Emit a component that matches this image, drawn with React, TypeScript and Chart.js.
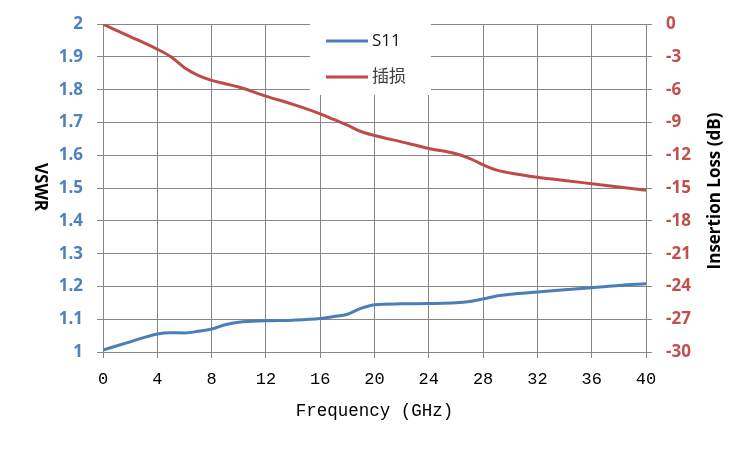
import React, { useEffect, useRef } from "react";
import { Chart, registerables } from "chart.js";

Chart.register(...registerables);

const freqGHz = [0, 2, 4, 5, 6, 7, 8, 9, 10, 12, 14, 16, 17, 18, 19, 20, 22, 24, 26, 27, 28, 29, 30, 32, 34, 36, 38, 40];
const vswrS11 = [1.006, 1.031, 1.055, 1.059, 1.058, 1.063, 1.07, 1.083, 1.091, 1.095, 1.097, 1.102, 1.108, 1.115, 1.133, 1.144, 1.147, 1.148, 1.15, 1.154, 1.162, 1.171, 1.176, 1.183, 1.19, 1.196, 1.203, 1.208];
const insertionLoss = [0, -1.13, -2.29, -2.97, -3.98, -4.68, -5.14, -5.45, -5.75, -6.58, -7.34, -8.2, -8.72, -9.24, -9.82, -10.18, -10.77, -11.37, -11.85, -12.27, -12.87, -13.35, -13.62, -14.01, -14.3, -14.6, -14.9, -15.2];

const seriesNames = ["S11", "插损"];
const xTitle = "Frequency (GHz)";
const yLeftTitle = "VSWR";
const yRightTitle = "Insertion Loss (dB)";

const BLUE = "#4A7EBB";
const RED = "#BE4B48";
const GRID = "#878787";
const TICK_FONT = '"Open Sans", "Noto Sans", sans-serif';

export default function App() {
  const ref = useRef<HTMLCanvasElement | null>(null);

  useEffect(() => {
    if (!ref.current) return;

    const overlay = {
      id: "overlay",
      beforeDatasetsDraw(chart: any) {
        const ctx = chart.ctx as CanvasRenderingContext2D;
        ctx.save();
        // legend box
        ctx.fillStyle = "#ffffff";
        ctx.fillRect(310, 18, 121, 77);
        const items = [
          { name: seriesNames[0], color: BLUE, y: 41, text: "#1a1a1a" },
          { name: seriesNames[1], color: RED, y: 77, text: "#404040" },
        ];
        items.forEach((it) => {
          ctx.strokeStyle = it.color;
          ctx.lineWidth = 3;
          ctx.beginPath();
          ctx.moveTo(326, it.y);
          ctx.lineTo(368, it.y);
          ctx.stroke();
          ctx.fillStyle = it.text;
          ctx.font = '17px "Open Sans", "Noto Sans CJK SC", sans-serif';
          ctx.textAlign = "left";
          ctx.textBaseline = "middle";
          ctx.fillText(it.name, 372, it.y);
        });
        ctx.restore();
      },
      afterDraw(chart: any) {
        const ctx = chart.ctx as CanvasRenderingContext2D;
        const area = chart.chartArea;
        ctx.save();
        ctx.fillStyle = "#000000";
        ctx.textAlign = "center";
        ctx.textBaseline = "middle";
        // x title
        ctx.font = '17.5px "Liberation Mono", monospace';
        ctx.fillText(xTitle, (area.left + area.right) / 2, 411);
        // left title (reads top to bottom)
        ctx.font = 'bold 17px ' + TICK_FONT;
        ctx.save();
        ctx.translate(40, 187);
        ctx.rotate(Math.PI / 2);
        ctx.fillText(yLeftTitle, 0, 0);
        ctx.restore();
        // right title (reads bottom to top)
        ctx.save();
        ctx.translate(715, 191);
        ctx.rotate(-Math.PI / 2);
        ctx.fillText(yRightTitle, 0, 0);
        ctx.restore();
        ctx.restore();
      },
    };

    const chart = new Chart(ref.current, {
      type: "line",
      data: {
        datasets: [
          {
            label: seriesNames[0],
            data: freqGHz.map((f, i) => ({ x: f, y: vswrS11[i] })),
            borderColor: BLUE,
            backgroundColor: BLUE,
            borderWidth: 3,
            pointRadius: 0,
            cubicInterpolationMode: "monotone",
            yAxisID: "y",
          },
          {
            label: seriesNames[1],
            data: freqGHz.map((f, i) => ({ x: f, y: insertionLoss[i] })),
            borderColor: RED,
            backgroundColor: RED,
            borderWidth: 3,
            pointRadius: 0,
            cubicInterpolationMode: "monotone",
            yAxisID: "y1",
          },
        ],
      },
      options: {
        animation: false,
        responsive: true,
        maintainAspectRatio: false,
        layout: { padding: { top: 22, left: 0, right: 0, bottom: 0 } },
        plugins: {
          legend: { display: false },
          tooltip: { enabled: false },
        },
        scales: {
          x: {
            type: "linear",
            min: 0,
            max: 40,
            ticks: {
              stepSize: 4,
              color: "#000000",
              font: { family: '"Liberation Mono", monospace', size: 17 },
              padding: 11,
            },
            grid: { color: GRID, lineWidth: 1, tickLength: 6 },
            border: { color: GRID },
            afterFit: (s: any) => {
              s.height = 98;
            },
          },
          y: {
            type: "linear",
            position: "left",
            min: 1,
            max: 2,
            ticks: {
              stepSize: 0.1,
              color: "#4F81BD",
              font: { family: TICK_FONT, size: 17, weight: "bold" },
              padding: 14,
              callback: (v: any) => String(Number(Number(v).toFixed(1))),
            },
            grid: { color: GRID, lineWidth: 1, tickLength: 6 },
            border: { color: GRID },
            afterFit: (s: any) => {
              s.width = 103;
            },
          },
          y1: {
            type: "linear",
            position: "right",
            min: -30,
            max: 0,
            ticks: {
              stepSize: 3,
              color: "#C0504D",
              font: { family: TICK_FONT, size: 17, weight: "bold" },
              padding: 14,
            },
            grid: { color: GRID, lineWidth: 1, tickLength: 6, drawOnChartArea: false },
            border: { color: GRID },
            afterFit: (s: any) => {
              s.width = 104;
            },
          },
        },
      },
      plugins: [overlay],
    });

    return () => chart.destroy();
  }, []);

  return (
    <div style={{ position: "fixed", left: 0, top: 0, width: 750, height: 450, background: "#fff" }}>
      <canvas ref={ref} />
    </div>
  );
}
